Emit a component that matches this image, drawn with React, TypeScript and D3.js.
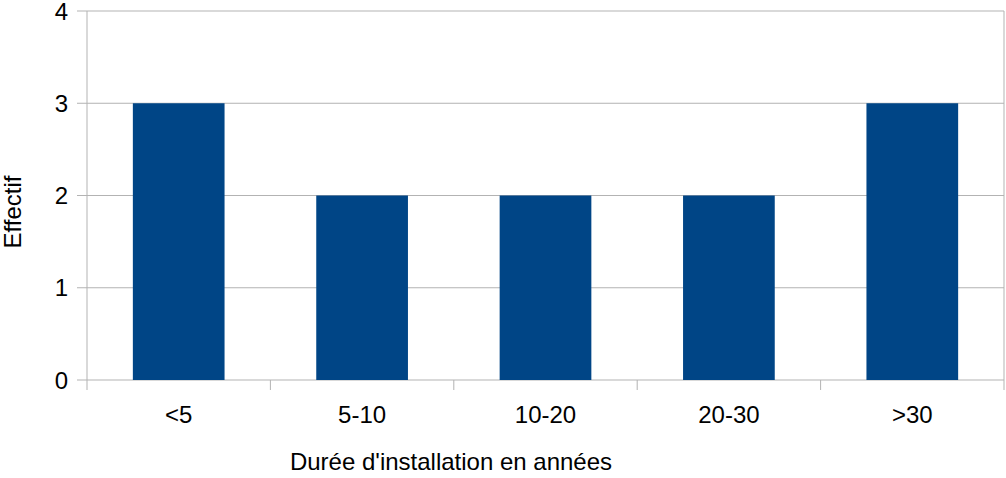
import * as d3 from "d3";

const categories = ["<5", "5-10", "10-20", "20-30", ">30"];
const values = [3, 2, 2, 2, 3];
const yTicks = [0, 1, 2, 3, 4];

const W = 1006;
const H = 478;
const margin = { top: 11, right: 2, bottom: 98, left: 87 };

export default function App() {
  const innerW = W - margin.left - margin.right;
  const innerH = H - margin.top - margin.bottom;

  const x = d3.scaleBand<string>().domain(categories).range([0, innerW]).paddingInner(0).paddingOuter(0);
  const y = d3.scaleLinear().domain([0, 4]).range([innerH, 0]);
  const barW = x.bandwidth() * 0.5;
  const grid = "#b3b3b3";
  const font = "'Liberation Sans', Arial, sans-serif";

  return (
    <svg width={W} height={H} style={{ position: "absolute", left: 0, top: 0, fontFamily: font }}>
      <rect width={W} height={H} fill="#fff" />
      <g transform={`translate(${margin.left},${margin.top})`}>
        {yTicks.map((t) => (
          <g key={t}>
            <line x1={-10} x2={innerW} y1={y(t)} y2={y(t)} stroke={grid} strokeWidth={1} />
            <text x={-19} y={y(t)} dy="0.36em" textAnchor="end" fontSize={24} fill="#000">
              {t}
            </text>
          </g>
        ))}
        <line x1={0} x2={0} y1={0} y2={innerH + 10} stroke={grid} />
        <line x1={innerW} x2={innerW} y1={0} y2={innerH} stroke={grid} />
        {categories.map((c, i) => (
          <line key={"t" + c} x1={x(c)!} x2={x(c)!} y1={innerH} y2={innerH + 10} stroke={grid} style={{ display: i === 0 ? "none" : undefined }} />
        ))}
        <line x1={innerW} x2={innerW} y1={innerH} y2={innerH + 10} stroke={grid} />
        {categories.map((c, i) => (
          <rect
            key={c}
            x={x(c)! + (x.bandwidth() - barW) / 2}
            y={y(values[i])}
            width={barW}
            height={innerH - y(values[i])}
            fill="#004586"
          />
        ))}
        {categories.map((c) => (
          <text key={"l" + c} x={x(c)! + x.bandwidth() / 2} y={innerH + 43} textAnchor="middle" fontSize={24} fill="#000">
            {c}
          </text>
        ))}
      </g>
      <text x={451} y={470} textAnchor="middle" fontSize={24} fill="#000">
        Durée d'installation en années
      </text>
      <text transform={`translate(21,212) rotate(-90)`} textAnchor="middle" fontSize={24} fill="#000">
        Effectif
      </text>
    </svg>
  );
}
